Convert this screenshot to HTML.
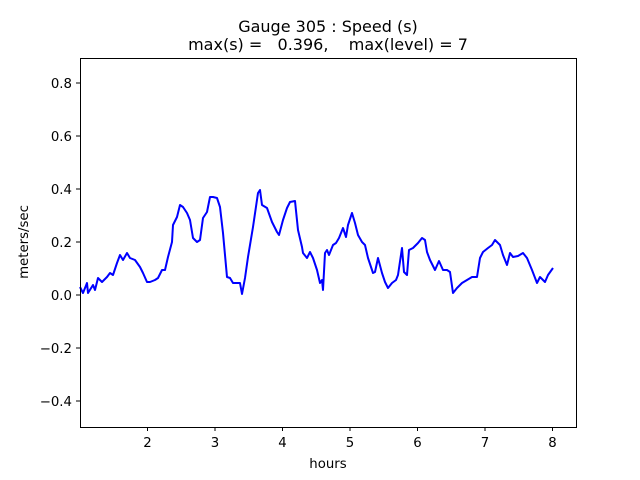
<!DOCTYPE html>
<html><head><style>body{margin:0;background:#fff}svg{display:block}text{font-family:"DejaVu Sans","Liberation Sans",sans-serif;fill:#000}</style></head>
<body>
<svg width="640" height="480" xmlns="http://www.w3.org/2000/svg">
<rect width="640" height="480" fill="#fff"/>
<polyline fill="none" stroke="#0000ff" stroke-width="2" stroke-linejoin="round" points="80,287 83,293 87,283 88,293 93,285 95,290 98,278 102,282 107,277 110,273 113,275 117,263 120,255 123,260 127,253 130,258 135,260 140,267 143,273 147,282 150,282 155,280 158,278 162,270 165,270 168,257 172,242 173,225 177,217 180,205 183,207 187,213 190,220 193,238 197,242 200,240 203,218 207,212 210,197 213,197 217,198 220,207 223,233 227,277 230,278 233,283 237,283 240,283 242,294 245,278 248,257 253,227 258,193 260,190 262,205 267,208 272,222 277,232 279,235 283,220 287,208 290,202 295,201 298,230 302,247 303,253 307,258 310,252 313,258 317,270 320,283 322,280 323,290 325,253 327,250 329,255 333,245 336,243 339,238 343,228 346,237 348,225 352,213 355,223 358,235 362,242 365,245 368,258 373,273 375,272 378,258 382,273 385,282 388,288 392,283 396,280 398,275 402,248 404,272 407,275 409,250 413,248 418,243 422,238 425,240 427,252 430,260 435,270 439,261 443,270 447,270 450,272 453,293 457,288 462,283 467,280 472,277 477,277 480,258 483,252 488,248 492,245 495,240 500,245 503,255 507,265 510,253 513,257 518,256 523,253 527,258 532,270 537,283 540,277 545,282 548,275 553,268"/>
<rect x="80.5" y="58.5" width="496" height="369" fill="none" stroke="#000" stroke-width="1"/>
<g stroke="#000" stroke-width="1">
<line x1="147.5" y1="427" x2="147.5" y2="431"/><line x1="215" y1="427" x2="215" y2="431"/><line x1="282.5" y1="427" x2="282.5" y2="431"/><line x1="350" y1="427" x2="350" y2="431"/><line x1="417.5" y1="427" x2="417.5" y2="431"/><line x1="485" y1="427" x2="485" y2="431"/><line x1="552.5" y1="427" x2="552.5" y2="431"/>
<line x1="76" y1="83" x2="80" y2="83"/><line x1="76" y1="136" x2="80" y2="136"/><line x1="76" y1="189" x2="80" y2="189"/><line x1="76" y1="242" x2="80" y2="242"/><line x1="76" y1="295" x2="80" y2="295"/><line x1="76" y1="348" x2="80" y2="348"/><line x1="76" y1="401" x2="80" y2="401"/>
</g>
<g font-size="13.3" text-anchor="middle">
<text x="147.5" y="447">2</text><text x="215" y="447">3</text><text x="282.5" y="447">4</text><text x="350" y="447">5</text><text x="417.5" y="447">6</text><text x="485" y="447">7</text><text x="552.5" y="447">8</text>
</g>
<g font-size="13.3" text-anchor="end">
<text x="72" y="88">0.8</text><text x="72" y="141">0.6</text><text x="72" y="194">0.4</text><text x="72" y="247">0.2</text><text x="72" y="300">0.0</text><text x="72" y="353">−0.2</text><text x="72" y="406">−0.4</text>
</g>
<text x="328" y="468" font-size="13.3" text-anchor="middle">hours</text>
<text transform="translate(28,242) rotate(-90)" font-size="13.3" text-anchor="middle">meters/sec</text>
<text x="328" y="32" font-size="16" text-anchor="middle">Gauge 305 : Speed (s)</text>
<text x="328" y="50" font-size="16" text-anchor="middle" xml:space="preserve">max(s) =   0.396,    max(level) = 7</text>
</svg>
</body></html>
